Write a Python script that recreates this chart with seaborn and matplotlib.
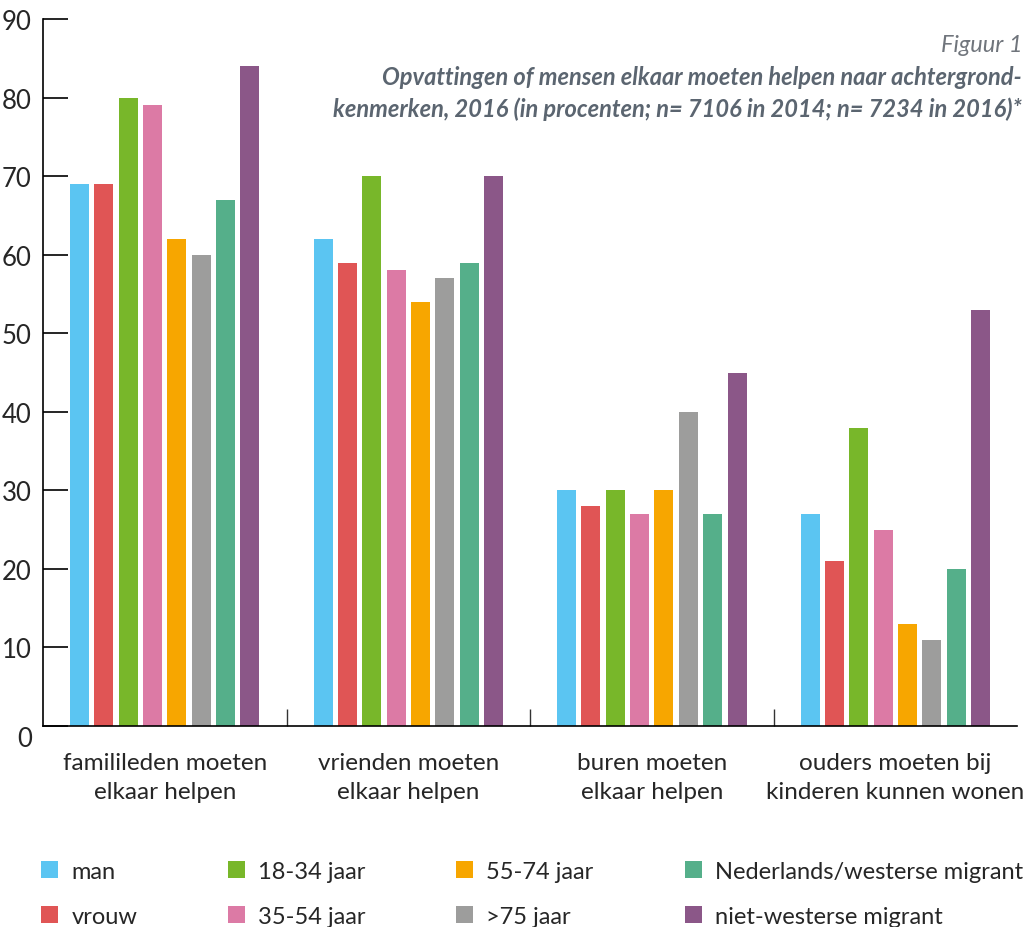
import pandas as pd
import matplotlib
matplotlib.use('Agg')
import matplotlib.pyplot as plt
import seaborn as sns

# categorieen en groepen
categories = ['familileden moeten\nelkaar helpen',
              'vrienden moeten\nelkaar helpen',
              'buren moeten\nelkaar helpen',
              'ouders moeten bij\nkinderen kunnen wonen']
groups = ['man', 'vrouw', '18-34 jaar', '35-54 jaar', '55-74 jaar', '>75 jaar',
          'Nederlands/westerse migrant', 'niet-westerse migrant']
colors = ['#5BC5F2', '#E05555', '#78B72A', '#DC7AA5', '#F7A600', '#9D9D9C',
          '#55AF8A', '#8B5788']

# percentages per groep (zelfde volgorde als categories)
man = [69, 62, 30, 27]
vrouw = [69, 59, 28, 21]
jaar_18_34 = [80, 70, 30, 38]
jaar_35_54 = [79, 58, 27, 25]
jaar_55_74 = [62, 54, 30, 13]
jaar_75 = [60, 57, 40, 11]
nl_westers = [67, 59, 27, 20]
niet_westers = [84, 70, 45, 53]

series = [man, vrouw, jaar_18_34, jaar_35_54, jaar_55_74, jaar_75, nl_westers, niet_westers]
rows = []
for g, vals in zip(groups, series):
    for c, v in zip(categories, vals):
        rows.append({'categorie': c, 'groep': g, 'waarde': v})
df = pd.DataFrame(rows)

sns.set_theme(style='white')
plt.rcParams['font.family'] = ['Lato', 'DejaVu Sans']

fig = plt.figure(figsize=(10.33, 9.28), dpi=100)
ax = fig.add_axes([0.0416, 0.2166, 0.943, 0.7618])

sns.barplot(data=df, x='categorie', y='waarde', hue='groep', hue_order=groups,
            order=categories, palette=colors, width=0.8, gap=0.22,
            linewidth=0, saturation=1, ax=ax)

ax.set_xlim(-0.5, 3.5)
ax.set_ylim(0, 90)
ax.set_xlabel('')
ax.set_ylabel('')
sns.despine(ax=ax)
for s in ['left', 'bottom']:
    ax.spines[s].set_color('black')
    ax.spines[s].set_linewidth(1.2)

# y-as
ax.set_yticks(range(0, 91, 10))
ax.tick_params(axis='y', direction='in', length=18, width=1.2, color='black',
               labelsize=18.5, pad=8, left=True)
ax.yaxis.get_major_ticks()[0].label1.set_verticalalignment('top')

# x-as
ax.set_xticks(range(len(categories)))
ax.set_xticklabels(categories, linespacing=1.45)
ax.tick_params(axis='x', length=0, labelsize=17.5, pad=19)
ax.set_xticks([0.5, 1.5, 2.5], minor=True)
ax.tick_params(axis='x', which='minor', direction='in', length=12, width=1,
               color='#333333', bottom=True)

# titel
fig.text(0.9895, 0.9505, 'Figuur 1', ha='right', va='center', style='italic',
         color='#70757c', size=17)
fig.text(0.9895, 0.929,
         'Opvattingen of mensen elkaar moeten helpen naar achtergrond-\n'
         'kenmerken, 2016 (in procenten; n= 7106 in 2014; n= 7234 in 2016)*',
         ha='right', va='top', style='italic', weight='bold',
         color='#5b6570', size=17, linespacing=1.45)

# legenda
handles, labels = ax.get_legend_handles_labels()
ax.legend_.remove()
fig.legend(handles, labels, ncol=4, loc='upper left', bbox_to_anchor=(0.04, 0.071),
           frameon=False, fontsize=17, handlelength=0.72, handleheight=0.72,
           handletextpad=0.55, columnspacing=3.85, labelspacing=1.0,
           borderpad=0, borderaxespad=0)

fig.savefig('out.png', dpi=100)
